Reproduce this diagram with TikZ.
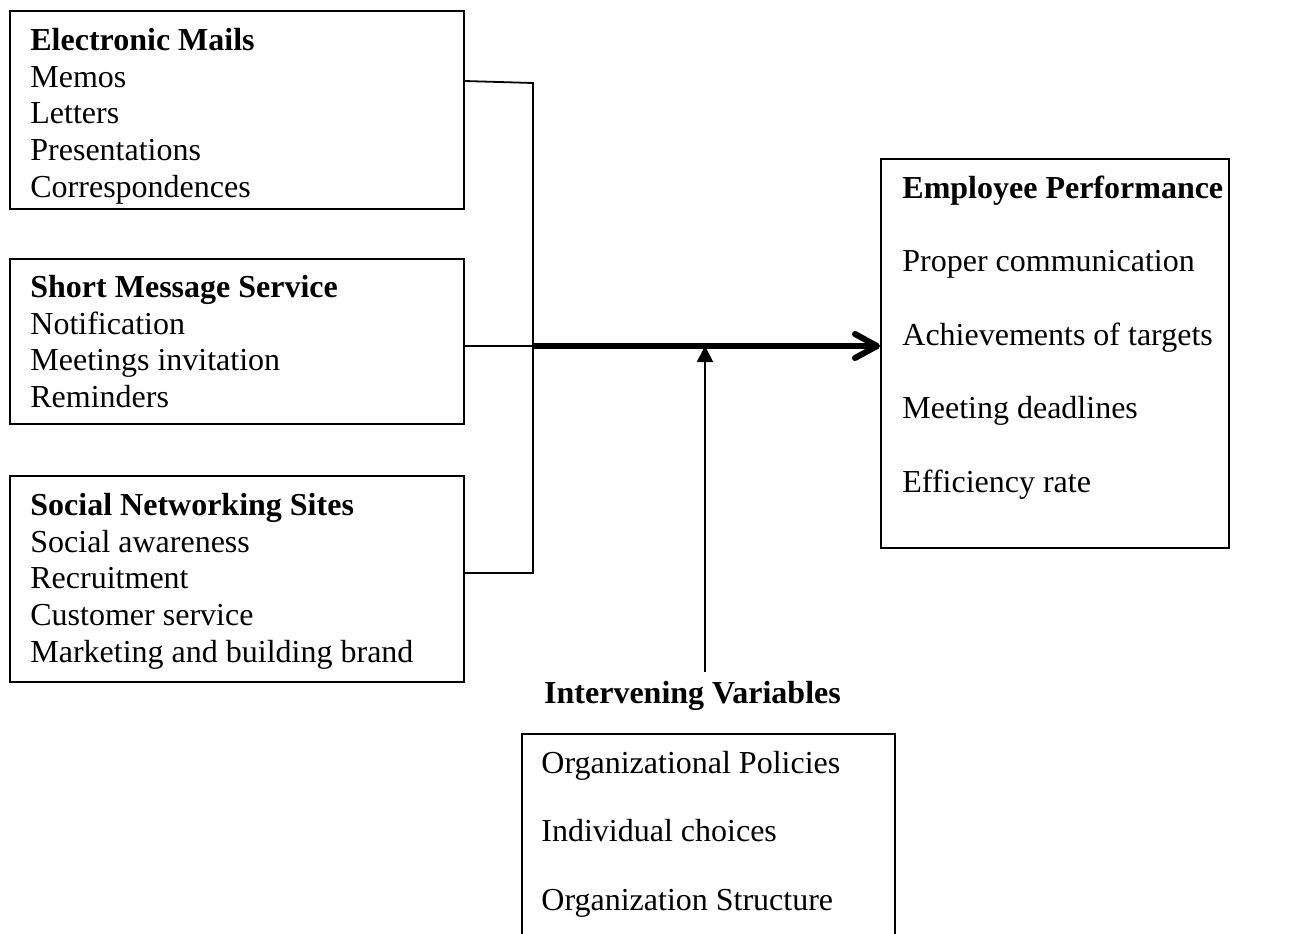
\documentclass[tikz,border=0pt,12pt]{standalone}
\usepackage{fontspec}
\setmainfont{Liberation Serif}
\usetikzlibrary{arrows.meta,positioning}

\begin{document}
\begin{tikzpicture}[x=0.5pt,y=-0.5pt,
  panel/.style={draw, line width=0.9pt, anchor=north west, inner sep=0pt},
  list/.style={anchor=base west, align=left, inner sep=0pt, font=\fontsize{16}{18.3}\selectfont},
  link/.style={line width=0.9pt}]
  \clip (0,0) rectangle (1291,933);
  % frames
  \node[panel, minimum width=227pt, minimum height=99pt] (em) at (9,10) {};
  \node[panel, minimum width=227pt, minimum height=82.5pt] (sms) at (9,258) {};
  \node[panel, minimum width=227pt, minimum height=103pt] (sns) at (9,475) {};
  \node[panel, minimum width=174pt, minimum height=194.5pt] (perf) at (880,158) {};
  \node[panel, minimum width=186.5pt, minimum height=140pt] (iv) at (521,733) {};
  % texts (placed at the baseline of their last line)
  \node[list] (emtxt) at (30,197) {\textbf{Electronic Mails}\\Memos\\Letters\\Presentations\\Correspondences};
  \node[list] (smstxt) at (30,407.5) {\textbf{Short Message Service}\\Notification\\Meetings invitation\\Reminders};
  \node[list] (snstxt) at (30,662) {\textbf{Social Networking Sites}\\Social awareness\\Recruitment\\Customer service\\Marketing and building brand};
  \node[list, font=\fontsize{16}{36.75}\selectfont] (perftxt) at (902,492) {\textbf{Employee Performance}\\Proper communication\\Achievements of targets\\Meeting deadlines\\Efficiency rate};
  \node[anchor=base, inner sep=0pt, font=\fontsize{16}{18.3}\selectfont\bfseries] (ivtitle) at (692.5,703) {Intervening Variables};
  \node[list, font=\fontsize{16}{34.25}\selectfont] (ivtxt) at (541,910) {Organizational Policies\\Individual choices\\Organization Structure};
  % connectors
  \coordinate (bustop) at (533,83);
  \coordinate (busbot) at (533,573);
  \coordinate (bus) at (533,346);
  \coordinate (ivtip) at (705,672);
  \draw[link] (em.east |- 0,81) -- (bustop) -- (busbot) -- (sns.east |- busbot);
  \draw[link] (sms.east |- bus) -- (bus);
  \draw[link, -{Triangle[length=8pt,width=8pt]}] (ivtip) -- (ivtip |- bus);
  \draw[line width=3pt, -{Straight Barb[length=11pt,width=12pt,round]}] (bus) -- (perf.west |- bus);
\end{tikzpicture}
\end{document}
